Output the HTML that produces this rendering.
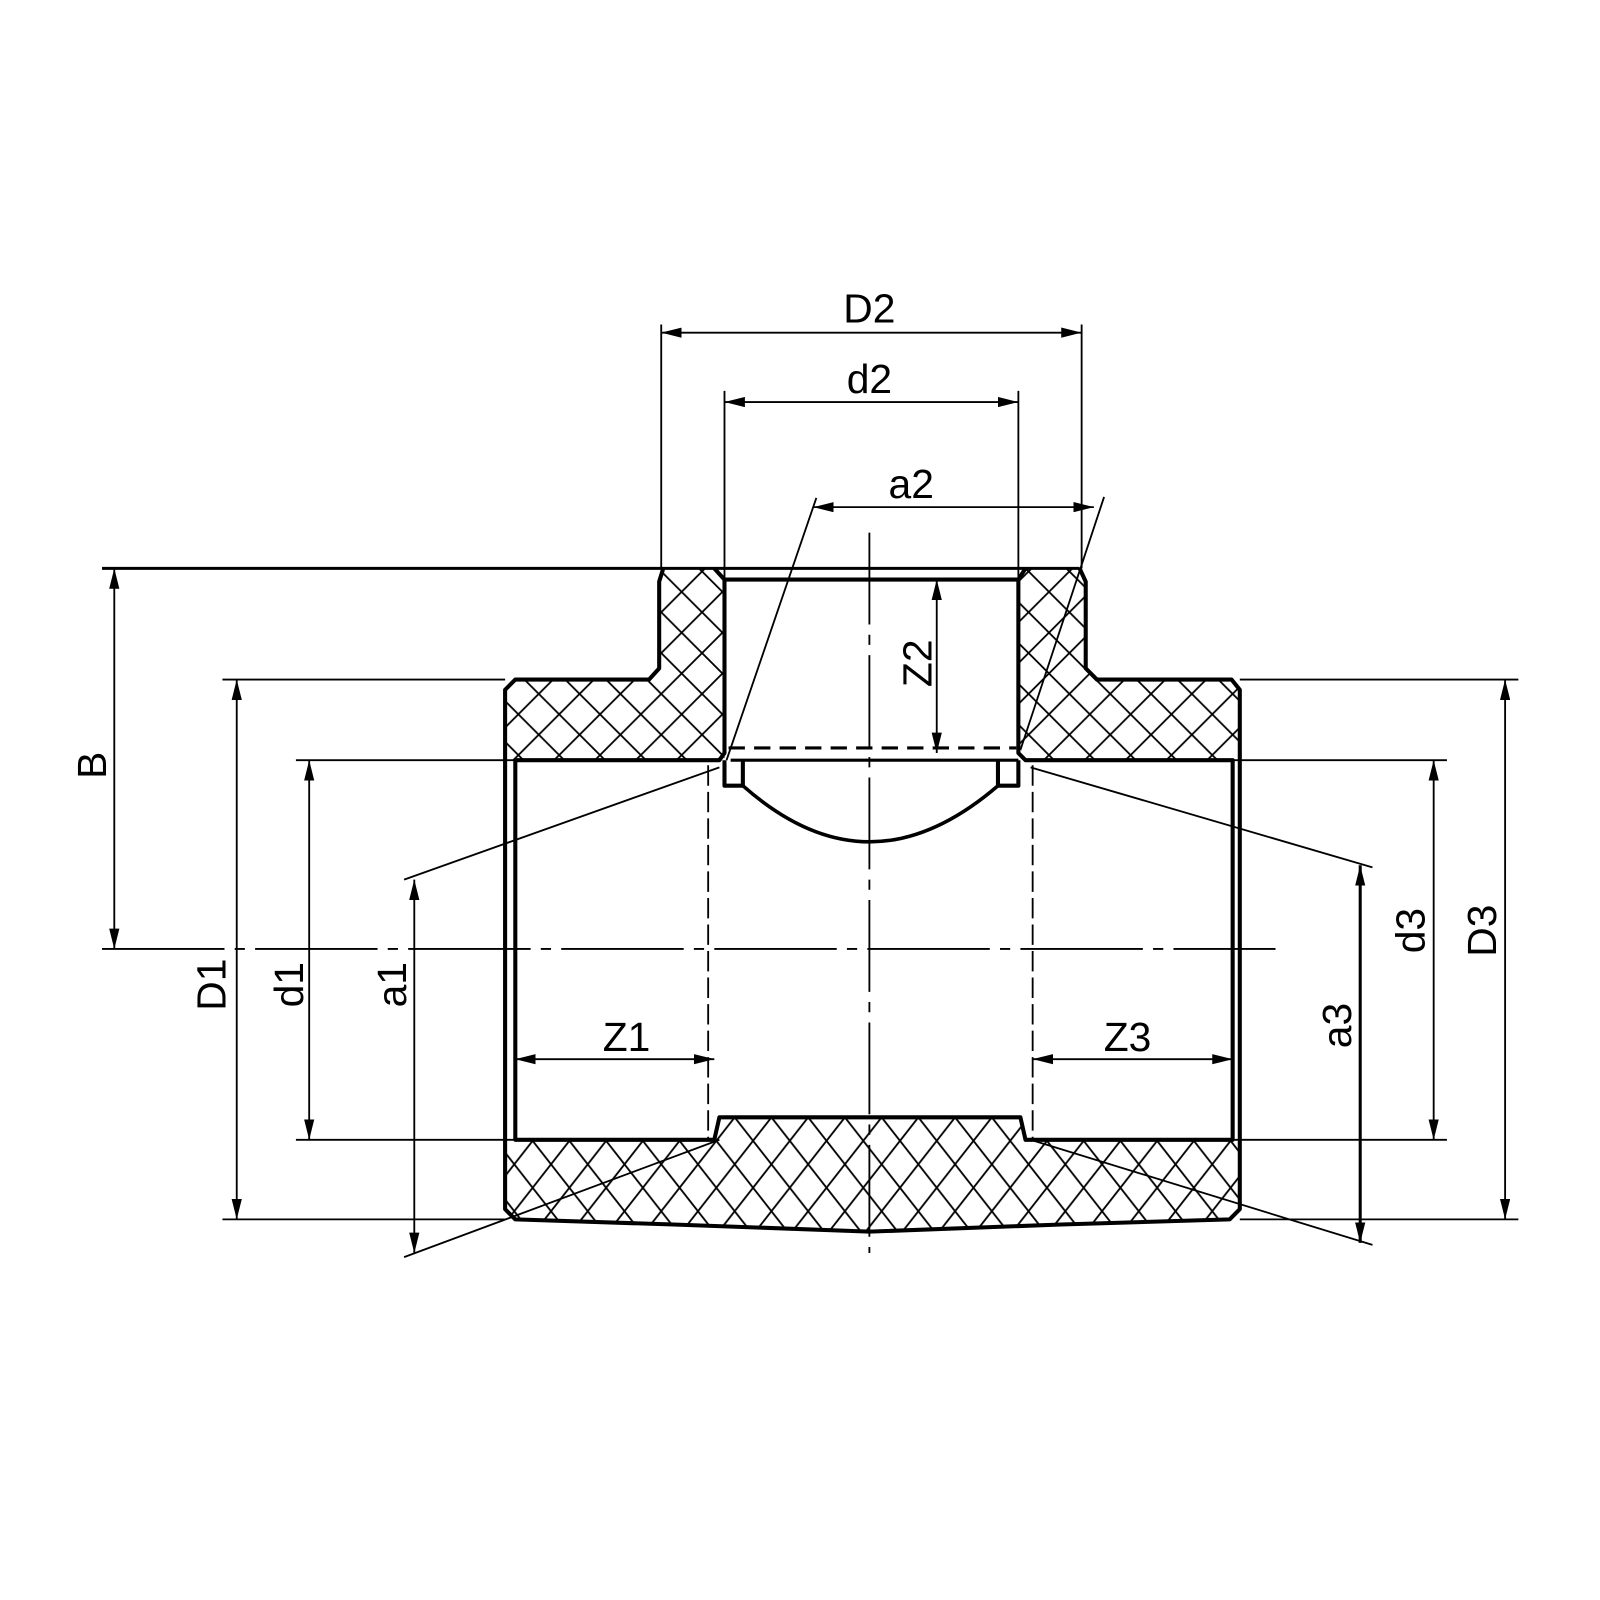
<!DOCTYPE html>
<html><head><meta charset="utf-8"><style>html,body{margin:0;padding:0;background:#fff}svg{display:block}</style></head>
<body>
<svg width="1600" height="1600" viewBox="0 0 1568 1568" xmlns="http://www.w3.org/2000/svg" font-family="Liberation Sans, sans-serif" font-size="40">
<defs>
<pattern id="h" patternUnits="userSpaceOnUse" width="40" height="40" x="8" y="0">
<path d="M0 0L40 40M40 0L0 40" stroke="#000" stroke-width="1.8"/>
</pattern>
<pattern id="h2" patternUnits="userSpaceOnUse" width="36" height="46" x="0" y="1095">
<path d="M0 0L36 46M36 0L0 46" stroke="#000" stroke-width="1.8"/>
</pattern>
<marker id="a" viewBox="0 0 20 10" refX="20" refY="5" markerWidth="20" markerHeight="10" markerUnits="userSpaceOnUse" orient="auto-start-reverse">
<path d="M0 0L20 5L0 10z" fill="#000"/>
</marker>
</defs>
<rect width="1568" height="1568" fill="#fff"/>
<path fill="url(#h)" d="M650 557L700 557L710 568L710 745L495 745L495 676L505 666L636 666L646 655L646 570Z"/>
<path fill="url(#h)" d="M1058 557L1005 557L998 568L998 745L1215 745L1215 676L1207 666L1075 666L1064 655L1064 570Z"/>
<path fill="url(#h2)" d="M495 1117L700 1117L705 1095L1000 1095L1005 1117L1215 1117L1215 1185L1205 1195L1040 1200L852 1207L660 1200L505 1195L495 1185Z"/>
<g fill="none" stroke="#000" stroke-width="4" stroke-linejoin="round">
<path d="M650 557L646 570L646 655L636 666L505 666L495 676L495 1185L505 1195L660 1200L852 1207L1040 1200L1205 1195L1215 1185L1215 676L1207 666L1075 666L1064 655L1064 570L1058 557"/>
<path d="M700 557L710 568L998 568L1005 557"/>
<path d="M710 568L710 738L705 745L505 745L505 1117L700 1117L705 1095L1000 1095L1005 1117L1208 1117L1208 745L1005 745L998 738L998 568"/>
<path d="M710 745L710 770L728 770L728 745M978 745L978 770L998 770L998 745"/>
<path d="M716 745L998 745" stroke-width="3"/>
<path d="M728 770Q790 825 852 825Q914 825 978 770" stroke-width="3.5"/>
</g>
<g fill="none" stroke="#000" stroke-width="1.8">
<path d="M100 557L1058 557" stroke-width="3"/>
<path d="M714 733L996 733" stroke-width="3" stroke-dasharray="16 9"/>
<path d="M694 750L694 1117M1012 750L1012 1117" stroke-dasharray="20 6"/>
<path d="M100 930L1250 930" stroke-dasharray="120 10 10 10"/>
<path d="M852 522L852 1228" stroke-dasharray="90 10 10 10"/>
<path d="M648 318L648 557M1060 318L1060 557"/>
<path d="M648 326L1060 326" marker-start="url(#a)" marker-end="url(#a)"/>
<path d="M710 383L710 568M998 383L998 568"/>
<path d="M710 394L998 394" marker-start="url(#a)" marker-end="url(#a)"/>
<path d="M797 497L1072 497" marker-start="url(#a)" marker-end="url(#a)"/>
<path d="M800 488L712 745M1082 487L1000 735"/>
<path d="M918 568L918 738" marker-start="url(#a)" marker-end="url(#a)"/>
<path d="M112 557L112 930" marker-start="url(#a)" marker-end="url(#a)"/>
<path d="M218 666L495 666M218 1195L495 1195"/>
<path d="M232 666L232 1195" marker-start="url(#a)" marker-end="url(#a)"/>
<path d="M290 745L505 745M290 1117L505 1117"/>
<path d="M303 745L303 1117" marker-start="url(#a)" marker-end="url(#a)"/>
<path d="M406 862L406 1228" marker-start="url(#a)" marker-end="url(#a)"/>
<path d="M396 862L705 752M396 1232L705 1117"/>
<path d="M505 1038L700 1038" marker-start="url(#a)" marker-end="url(#a)"/>
<path d="M1012 1038L1208 1038" marker-start="url(#a)" marker-end="url(#a)"/>
<path d="M1333 848L1333 1218" marker-start="url(#a)" marker-end="url(#a)" stroke-width="3"/>
<path d="M1345 850L1010 752M1345 1220L1010 1117"/>
<path d="M1208 745L1418 745M1208 1117L1418 1117"/>
<path d="M1405 745L1405 1117" marker-start="url(#a)" marker-end="url(#a)"/>
<path d="M1215 666L1488 666M1215 1195L1488 1195"/>
<path d="M1475 666L1475 1195" marker-start="url(#a)" marker-end="url(#a)"/>
</g>
<g text-anchor="middle" fill="#000">
<text x="852" y="316">D2</text>
<text x="852" y="385">d2</text>
<text x="893" y="488">a2</text>
<text x="614" y="1030">Z1</text>
<text x="1105" y="1030">Z3</text>
<text transform="translate(913,650) rotate(-90)">Z2</text>
<text transform="translate(104,750) rotate(-90)">B</text>
<text transform="translate(221,965) rotate(-90)">D1</text>
<text transform="translate(297,965) rotate(-90)">d1</text>
<text transform="translate(398,965) rotate(-90)">a1</text>
<text transform="translate(1324,1005) rotate(-90)">a3</text>
<text transform="translate(1396,912) rotate(-90)">d3</text>
<text transform="translate(1466,912) rotate(-90)">D3</text>
</g>
</svg>
</body></html>
